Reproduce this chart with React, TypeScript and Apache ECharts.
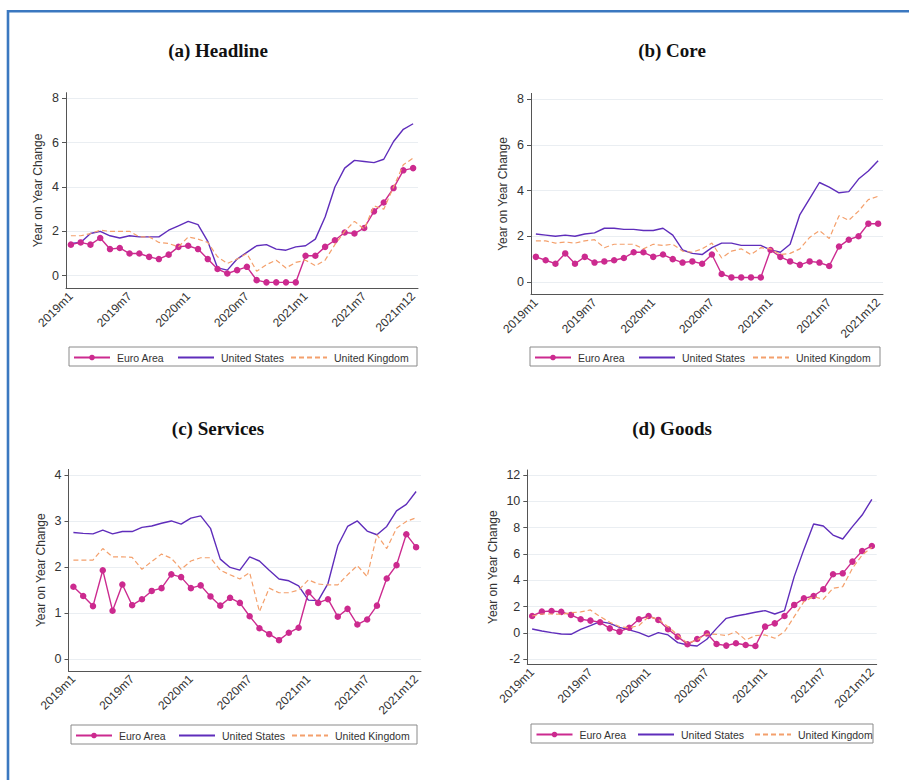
import React, { useEffect, useRef } from "react";
import * as echarts from "echarts";

const months = [
  "2019m1", "2019m2", "2019m3", "2019m4", "2019m5", "2019m6", "2019m7", "2019m8", "2019m9", "2019m10", "2019m11", "2019m12",
  "2020m1", "2020m2", "2020m3", "2020m4", "2020m5", "2020m6", "2020m7", "2020m8", "2020m9", "2020m10", "2020m11", "2020m12",
  "2021m1", "2021m2", "2021m3", "2021m4", "2021m5", "2021m6", "2021m7", "2021m8", "2021m9", "2021m10", "2021m11", "2021m12",
];
const labelledMonths = ["2019m1", "2019m7", "2020m1", "2020m7", "2021m1", "2021m7", "2021m12"];

const seriesNames = ["Euro Area", "United States", "United Kingdom"];
const panelTitles = ["(a) Headline", "(b) Core", "(c) Services", "(d) Goods"];
const yAxisTitle = "Year on Year Change";

const ticksHeadline = [0, 2, 4, 6, 8];
const ticksCore = [0, 2, 4, 6, 8];
const ticksServices = [0, 1, 2, 3, 4];
const ticksGoods = [-2, 0, 2, 4, 6, 8, 10, 12];

// (a) Headline
const euroHeadline = [1.4, 1.5, 1.4, 1.7, 1.2, 1.25, 1.0, 1.0, 0.85, 0.75, 0.95, 1.3, 1.35, 1.2, 0.75, 0.3, 0.1, 0.25, 0.4, -0.2, -0.3, -0.3, -0.3, -0.3, 0.9, 0.9, 1.3, 1.6, 1.95, 1.9, 2.15, 2.9, 3.3, 3.95, 4.75, 4.85];
const usHeadline = [1.45, 1.5, 1.9, 2.0, 1.8, 1.7, 1.8, 1.75, 1.75, 1.75, 2.05, 2.25, 2.45, 2.3, 1.55, 0.35, 0.25, 0.75, 1.05, 1.35, 1.4, 1.2, 1.15, 1.3, 1.35, 1.65, 2.65, 4.0, 4.85, 5.2, 5.15, 5.1, 5.25, 6.05, 6.6, 6.85];
const ukHeadline = [1.8, 1.8, 1.9, 2.05, 2.0, 2.0, 2.0, 1.75, 1.75, 1.5, 1.45, 1.3, 1.75, 1.65, 1.5, 0.85, 0.55, 0.75, 1.0, 0.2, 0.5, 0.7, 0.35, 0.6, 0.7, 0.45, 0.7, 1.4, 2.0, 2.45, 2.1, 3.15, 3.0, 4.0, 5.0, 5.3];

// (b) Core
const euroCore = [1.1, 0.95, 0.8, 1.25, 0.8, 1.1, 0.85, 0.9, 0.95, 1.05, 1.3, 1.3, 1.1, 1.2, 1.0, 0.85, 0.9, 0.8, 1.2, 0.35, 0.2, 0.2, 0.2, 0.2, 1.4, 1.1, 0.9, 0.75, 0.9, 0.85, 0.7, 1.55, 1.85, 2.0, 2.55, 2.55];
const usCore = [2.1, 2.05, 2.0, 2.05, 2.0, 2.1, 2.15, 2.35, 2.35, 2.3, 2.3, 2.25, 2.25, 2.35, 2.05, 1.4, 1.25, 1.2, 1.5, 1.7, 1.7, 1.6, 1.6, 1.6, 1.4, 1.3, 1.65, 2.95, 3.65, 4.35, 4.15, 3.9, 3.95, 4.5, 4.85, 5.3];
const ukCore = [1.8, 1.8, 1.7, 1.75, 1.7, 1.8, 1.85, 1.5, 1.65, 1.65, 1.65, 1.45, 1.65, 1.6, 1.65, 1.35, 1.3, 1.45, 1.7, 1.05, 1.35, 1.45, 1.2, 1.5, 1.45, 1.2, 1.25, 1.45, 1.95, 2.25, 1.9, 2.9, 2.7, 3.1, 3.6, 3.75];

// (c) Services
const euroServices = [1.57, 1.37, 1.15, 1.93, 1.05, 1.62, 1.17, 1.3, 1.48, 1.54, 1.84, 1.78, 1.54, 1.6, 1.36, 1.16, 1.33, 1.22, 0.93, 0.67, 0.54, 0.41, 0.57, 0.68, 1.45, 1.22, 1.3, 0.92, 1.09, 0.75, 0.86, 1.16, 1.75, 2.04, 2.71, 2.43];
const usServices = [2.75, 2.73, 2.72, 2.8, 2.72, 2.77, 2.77, 2.86, 2.89, 2.95, 3.0, 2.93, 3.06, 3.11, 2.84, 2.17, 1.99, 1.93, 2.22, 2.13, 1.93, 1.74, 1.7, 1.59, 1.28, 1.27, 1.64, 2.46, 2.88, 3.0, 2.78, 2.7, 2.88, 3.22, 3.36, 3.64];
const ukServices = [2.15, 2.15, 2.15, 2.4, 2.22, 2.22, 2.21, 1.95, 2.12, 2.28, 2.19, 1.95, 2.13, 2.2, 2.2, 1.93, 1.83, 1.74, 1.88, 1.03, 1.54, 1.44, 1.44, 1.5, 1.72, 1.63, 1.61, 1.61, 1.83, 2.03, 1.79, 2.7, 2.4, 2.84, 2.99, 3.07];

// (d) Goods
const euroGoods = [1.29, 1.62, 1.67, 1.6, 1.37, 1.04, 0.94, 0.81, 0.35, 0.1, 0.4, 1.04, 1.29, 0.99, 0.28, -0.28, -0.86, -0.46, -0.03, -0.84, -0.96, -0.78, -0.91, -0.99, 0.48, 0.73, 1.29, 2.13, 2.63, 2.81, 3.32, 4.46, 4.53, 5.42, 6.23, 6.61];
const usGoods = [0.3, 0.15, 0.03, -0.08, -0.1, 0.28, 0.56, 0.86, 0.73, 0.43, 0.23, 0.03, -0.28, 0.03, -0.15, -0.73, -0.91, -0.99, -0.48, 0.35, 1.11, 1.29, 1.42, 1.57, 1.7, 1.44, 1.7, 4.28, 6.35, 8.28, 8.13, 7.44, 7.14, 8.08, 8.96, 10.15];
const ukGoods = [1.29, 1.44, 1.44, 1.42, 1.54, 1.6, 1.75, 1.24, 0.81, 0.48, 0.4, 0.56, 1.24, 1.04, 0.48, -0.15, -0.78, -0.53, -0.08, -0.1, -0.2, 0.1, -0.53, -0.2, -0.15, -0.4, 0.1, 1.24, 2.38, 2.76, 2.56, 3.39, 3.52, 4.91, 5.92, 6.51];

const panelData = [
  [euroHeadline, usHeadline, ukHeadline],
  [euroCore, usCore, ukCore],
  [euroServices, usServices, ukServices],
  [euroGoods, usGoods, ukGoods],
];
const panelTicks = [ticksHeadline, ticksCore, ticksServices, ticksGoods];

// layout (pixels)
const layout = [
  { left: 66, top: 92.7, width: 352, height: 195.6, min: -0.568, max: 8.25, nameGap: 22, titleX: 218, titleY: 50, boxX: 69, boxY: 347, boxW: 348, offs: [4, 108, 221] },
  { left: 531, top: 93.4, width: 352, height: 201.1, min: -0.546, max: 8.245, nameGap: 22, titleX: 672, titleY: 50, boxX: 530, boxY: 347, boxW: 350, offs: [4, 108, 222] },
  { left: 68.5, top: 469.4, width: 352.5, height: 201.6, min: -0.26, max: 4.12, nameGap: 22, titleX: 218, titleY: 428, boxX: 71, boxY: 725, boxW: 346, offs: [4, 107, 220] },
  { left: 527.3, top: 470, width: 349.4, height: 194.3, min: -2.38, max: 12.38, nameGap: 28, titleX: 672, titleY: 428, boxX: 531, boxY: 724, boxW: 342, offs: [4.5, 106, 223] },
];

const colors = ["#cc2a8f", "#5f2dbb", "#f4a06c"];
const SANS = '"Liberation Sans", Arial, sans-serif';

export default function App() {
  const ref = useRef<HTMLDivElement>(null);

  useEffect(() => {
    if (!ref.current) return;
    const chart = echarts.init(ref.current, null, { renderer: "svg" });

    const grid: any[] = [];
    const xAxis: any[] = [];
    const yAxis: any[] = [];
    const series: any[] = [];
    const legend: any[] = [];
    const graphic: any[] = [];

    graphic.push({
      type: "polyline",
      shape: { points: [[8, 780], [8, 11.3], [909, 11.3]] },
      style: { stroke: "#3b78c0", lineWidth: 2.6, fill: null },
      silent: true,
    });

    const showIdx = (i: number) => labelledMonths.includes(months[i]);

    layout.forEach((L, p) => {
      grid.push({ left: L.left, top: L.top, width: L.width, height: L.height, containLabel: false });
      xAxis.push({
        type: "category",
        gridIndex: p,
        data: months,
        boundaryGap: true,
        axisLine: { onZero: false, lineStyle: { color: "#555", width: 1 } },
        axisTick: { alignWithLabel: true, interval: (i: number) => showIdx(i), length: 4, lineStyle: { color: "#555" } },
        axisLabel: {
          interval: (i: number) => showIdx(i),
          rotate: 45,
          margin: 6,
          fontSize: 12,
          fontFamily: SANS,
          color: "#333",
        },
        splitLine: { show: false },
      });
      yAxis.push({
        type: "value",
        gridIndex: p,
        min: L.min,
        max: L.max,
        name: yAxisTitle,
        nameLocation: "middle",
        nameGap: L.nameGap,
        nameTextStyle: { fontSize: 12, fontFamily: SANS, color: "#333" },
        axisLine: { show: true, lineStyle: { color: "#555", width: 1 } },
        axisTick: { show: true, length: 4, customValues: panelTicks[p], lineStyle: { color: "#555" } },
        axisLabel: { customValues: panelTicks[p], fontSize: 12.5, fontFamily: SANS, color: "#333", margin: 7 },
        splitLine: { show: true, lineStyle: { color: "#eaeef2", width: 1 } },
      });
      const data = panelData[p];
      seriesNames.forEach((name, s) => {
        series.push({
          type: "line",
          name,
          xAxisIndex: p,
          yAxisIndex: p,
          data: data[s],
          color: colors[s],
          symbol: s === 0 ? "circle" : "none",
          symbolSize: 6.5,
          showSymbol: s === 0,
          showAllSymbol: true,
          lineStyle: { color: colors[s], width: s === 2 ? 1.2 : 1.4, type: s === 2 ? [5, 3] : "solid" },
          itemStyle: { color: colors[s] },
          z: s === 0 ? 3 : s === 1 ? 2 : 4,
        });
        legend.push({
          data: [name],
          left: L.boxX + L.offs[s],
          top: L.boxY + 5,
          itemWidth: 36,
          itemHeight: 7,
          itemGap: 0,
          padding: 0,
          selectedMode: false,
          itemStyle: s === 0 ? {} : { color: "rgba(0,0,0,0)", borderColor: "rgba(0,0,0,0)", borderWidth: 0, opacity: 0 },
          textStyle: { fontSize: 10.5, fontFamily: SANS, color: "#333", padding: [0, 0, 0, 2] },
        });
      });
      graphic.push({
        type: "rect",
        shape: { x: L.boxX, y: L.boxY, width: L.boxW, height: 19 },
        style: { stroke: "#8a8a8a", lineWidth: 1, fill: null },
        silent: true,
      });
      graphic.push({
        type: "text",
        x: L.titleX,
        y: L.titleY,
        style: {
          text: panelTitles[p],
          textAlign: "center",
          textVerticalAlign: "middle",
          font: 'bold 19px "Liberation Serif", "Times New Roman", serif',
          fill: "#111",
        },
        silent: true,
      });
    });

    chart.setOption({
      animation: false,
      backgroundColor: "#ffffff",
      grid,
      xAxis,
      yAxis,
      series,
      legend,
      graphic,
    });

    return () => chart.dispose();
  }, []);

  return (
    <div
      ref={ref}
      style={{ position: "absolute", left: 0, top: 0, width: 909, height: 780, background: "#fff" }}
    />
  );
}
